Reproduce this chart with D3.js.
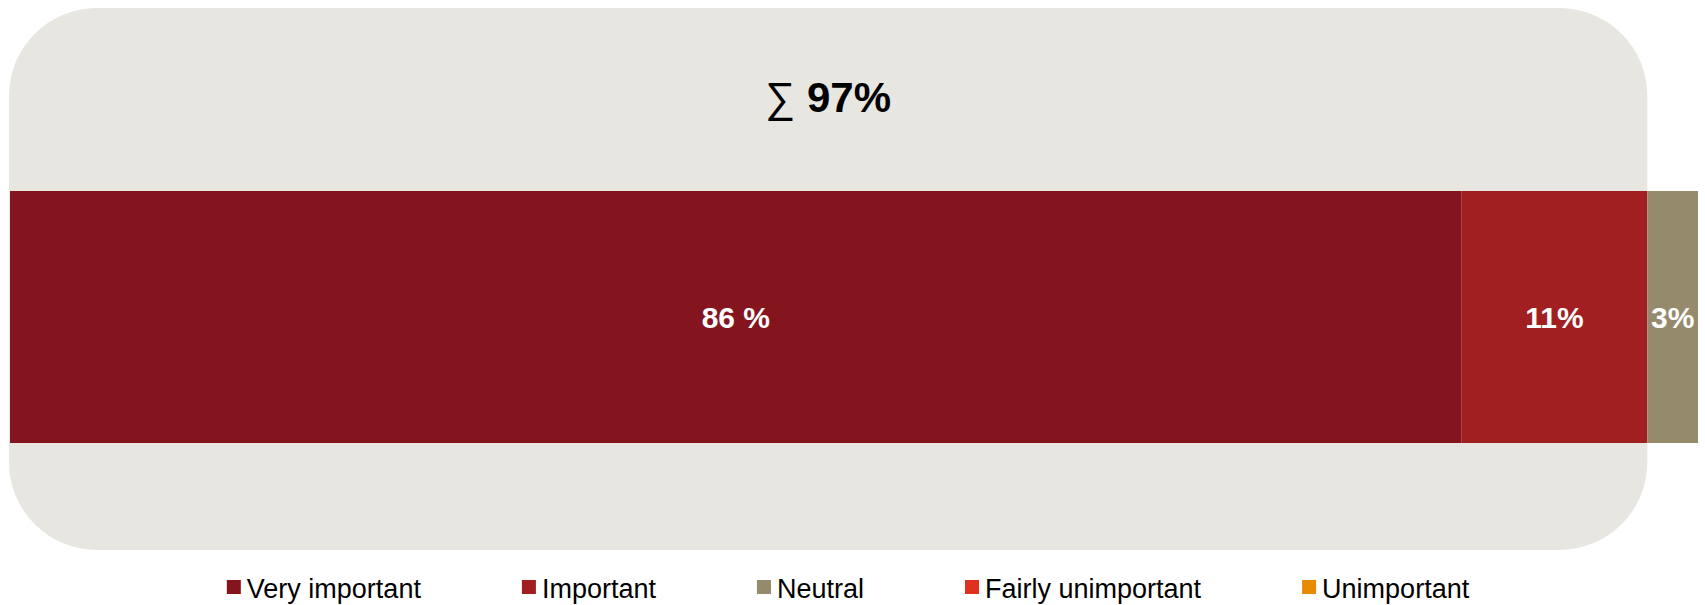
<!DOCTYPE html>
<html>
<head>
<meta charset="utf-8">
<script src="https://cdn.jsdelivr.net/npm/d3@7"></script>
<style>
  html, body { margin: 0; padding: 0; background: #ffffff; }
  svg { display: block; font-family: "Liberation Sans", Arial, sans-serif; }
</style>
</head>
<body>
<svg id="chart" width="1705" height="605"></svg>
<script>
const categories = ["Very important", "Important", "Neutral", "Fairly unimportant", "Unimportant"];
const values = [86, 11, 3, 0, 0];
const valueLabels = ["86 %", "11%", "3%", "", ""];
const colors = ["#84151F", "#A11F21", "#958A6B", "#E03020", "#E88A00"];
const sumValue = 97;
const sumLabel = "97%";

const svg = d3.select("#chart");

const x = d3.scaleLinear().domain([0, 100]).range([10, 1698]);
const barTop = 191, barBottom = 443;

// background box spanning the summed share
svg.append("rect")
  .attr("x", x(0) - 1)
  .attr("y", 8)
  .attr("width", x(sumValue) - x(0) + 1)
  .attr("height", 542)
  .attr("rx", 88).attr("ry", 88)
  .attr("fill", "#E8E6E1");

// sum label
const t = svg.append("text")
  .attr("x", (x(0) - 1 + x(sumValue)) / 2)
  .attr("y", 112)
  .attr("text-anchor", "middle")
  .attr("font-size", 42)
  .attr("fill", "#000");
t.append("tspan").attr("font-weight", "normal").text("\u2211 ");
t.append("tspan").attr("font-weight", "bold").text(sumLabel);

// stacked segments
let cum = 0;
const segs = values.map((v, i) => { const s = {v, i, x0: cum, x1: cum + v}; cum += v; return s; });

svg.selectAll("rect.seg")
  .data(segs.filter(d => d.v > 0))
  .join("rect")
  .attr("class", "seg")
  .attr("x", d => x(d.x0))
  .attr("y", barTop)
  .attr("width", d => x(d.x1) - x(d.x0))
  .attr("height", barBottom - barTop)
  .attr("fill", d => colors[d.i]);

svg.selectAll("text.val")
  .data(segs.filter(d => d.v > 0))
  .join("text")
  .attr("class", "val")
  .attr("x", d => (x(d.x0) + x(d.x1)) / 2)
  .attr("y", 328)
  .attr("text-anchor", "middle")
  .attr("font-size", 30)
  .attr("font-weight", "bold")
  .attr("fill", "#ffffff")
  .text(d => valueLabels[d.i]);

// legend
const legend = svg.append("g");
const sq = 14, gapText = 6, spacing = 101, fs = 27;
const items = legend.selectAll("g.item").data(categories).join("g").attr("class", "item");
items.append("rect")
  .attr("width", sq).attr("height", sq)
  .attr("y", 580)
  .attr("fill", (d, i) => colors[i]);
items.append("text")
  .attr("x", sq + gapText)
  .attr("y", 598)
  .attr("font-size", fs)
  .attr("fill", "#000")
  .text(d => d);
const widths = [];
items.each(function() {
  const w = d3.select(this).select("text").node().getComputedTextLength();
  widths.push(sq + gapText + w);
});
const total = d3.sum(widths) + spacing * (widths.length - 1);
let start = 848 - total / 2;
items.attr("transform", (d, i) => {
  const tx = start;
  start += widths[i] + spacing;
  return `translate(${tx},0)`;
});
</script>
</body>
</html>
